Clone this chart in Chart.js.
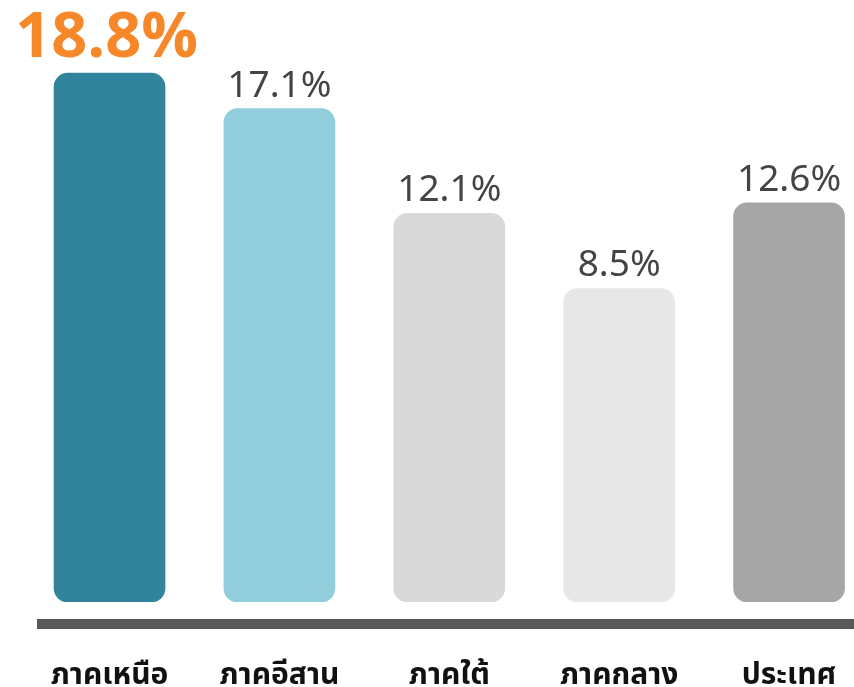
<!DOCTYPE html>
<html>
<head>
<meta charset="utf-8">
<script src="https://cdn.jsdelivr.net/npm/chart.js@4/dist/chart.umd.min.js"></script>
<style>
  html, body { margin: 0; padding: 0; background: #ffffff; overflow: hidden; }
  #wrap { position: relative; width: 874px; height: 687px; }
</style>
</head>
<body>
<div id="wrap"><canvas id="c"></canvas></div>
<script>
const categories = ["ภาคเหนือ", "ภาคอีสาน", "ภาคใต้", "ภาคกลาง", "ประเทศ"];
const values = [18.8, 17.1, 12.1, 8.5, 12.6];
const valueLabels = ["18.8%", "17.1%", "12.1%", "8.5%", "12.6%"];
const barColors = ["#31849b", "#92cddc", "#d9d9d9", "#e7e7e7", "#a6a6a6"];

const FONT = "'Noto Sans Thai', 'Noto Sans', 'DejaVu Sans', sans-serif";
const Y_MIN = -6.5;
const Y_MAX = 22.3;

const valueLabelPlugin = {
  id: 'valueLabels',
  afterDatasetsDraw(chart) {
    const ctx = chart.ctx;
    const meta = chart.getDatasetMeta(0);
    ctx.save();
    ctx.textAlign = 'center';
    ctx.textBaseline = 'alphabetic';
    meta.data.forEach((bar, i) => {
      if (i === 0) {
        ctx.fillStyle = '#f7882a';
        ctx.font = "bold 63px " + FONT;
        ctx.fillText(valueLabels[i], bar.x - 3, bar.y - 16);
      } else {
        ctx.fillStyle = '#444444';
        ctx.font = "37px " + FONT;
        ctx.fillText(valueLabels[i], bar.x, bar.y - 12);
      }
    });
    ctx.restore();
  }
};

const baselinePlugin = {
  id: 'baseline',
  afterDatasetsDraw(chart) {
    const ctx = chart.ctx;
    const y = chart.chartArea.bottom + 17;
    ctx.save();
    ctx.fillStyle = '#595959';
    ctx.fillRect(37, y, chart.width - 37, 10);
    ctx.restore();
  }
};

new Chart(document.getElementById('c'), {
  type: 'bar',
  data: {
    labels: categories,
    datasets: [{
      data: values,
      base: Y_MIN,
      backgroundColor: barColors,
      borderRadius: 14,
      borderSkipped: false,
      barThickness: 111
    }]
  },
  options: {
    responsive: true,
    maintainAspectRatio: false,
    animation: false,
    layout: { padding: { left: 24.6, right: 0, top: 0, bottom: 0 } },
    plugins: { legend: { display: false }, tooltip: { enabled: false } },
    scales: {
      x: {
        grid: { display: false },
        border: { display: false },
        ticks: {
          padding: 51,
          color: '#111111',
          font: { family: FONT, size: 30, weight: 'bold', lineHeight: 1.1 },
          maxRotation: 0,
          autoSkip: false
        },
        afterFit(scale) {
          scale.paddingLeft = 0;
          scale.paddingRight = 0;
          scale.height = 85;
        }
      },
      y: {
        display: false,
        min: Y_MIN,
        max: Y_MAX
      }
    }
  },
  plugins: [valueLabelPlugin, baselinePlugin]
});
</script>
</body>
</html>
